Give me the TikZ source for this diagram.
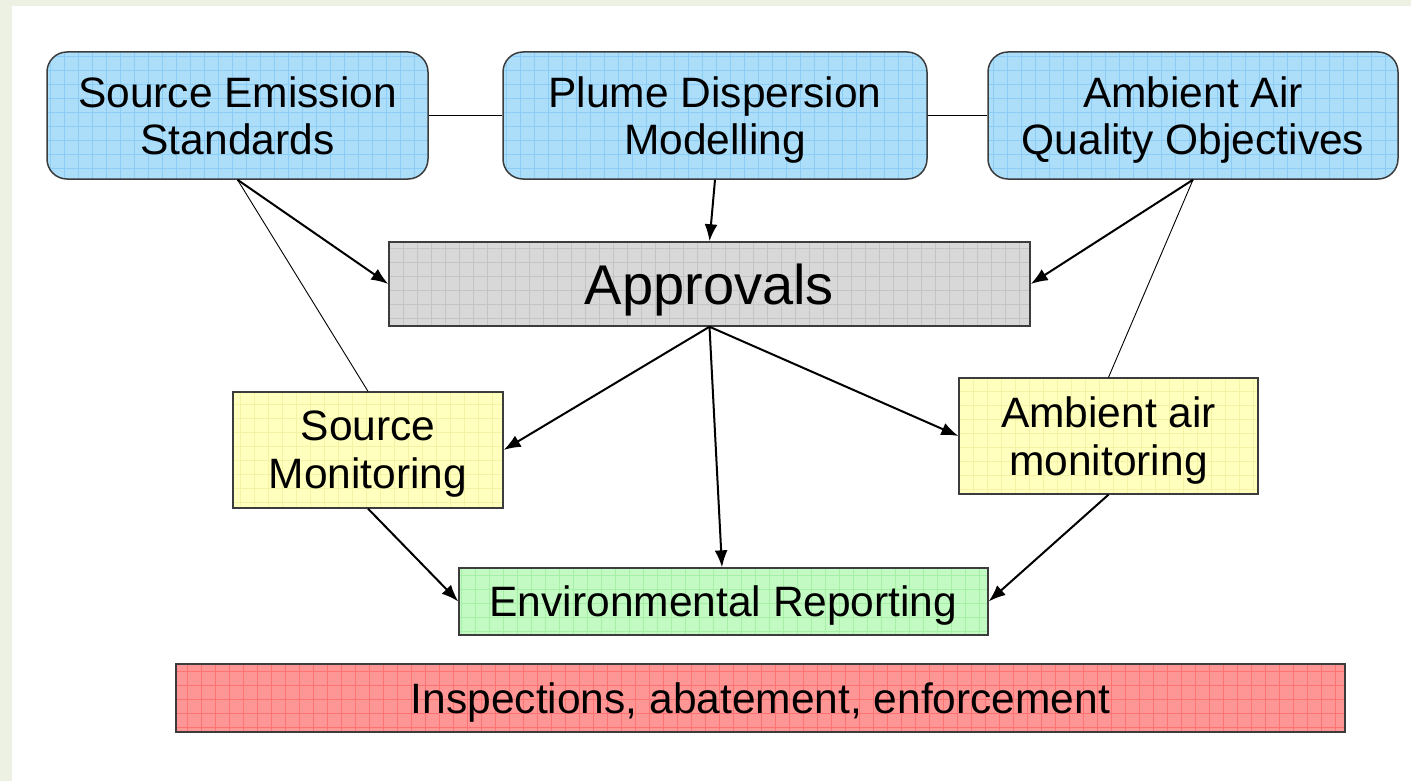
\documentclass[tikz,border=0pt]{standalone}
\usepackage{fontspec}
\setmainfont{Liberation Sans}
\usetikzlibrary{arrows.meta}
\newcommand{\nodepth}[1]{\raisebox{0pt}[\height][0pt]{#1}}
\definecolor{bgframe}{RGB}{237,241,227}
\definecolor{bluefill}{RGB}{172,222,250}
\definecolor{bluegrid}{RGB}{140,205,247}
\definecolor{grayfill}{RGB}{216,216,216}
\definecolor{graygrid}{RGB}{196,196,196}
\definecolor{yellowfill}{RGB}{255,255,190}
\definecolor{yellowgrid}{RGB}{245,242,165}
\definecolor{greenfill}{RGB}{195,250,195}
\definecolor{greengrid}{RGB}{165,240,165}
\definecolor{redfill}{RGB}{255,150,150}
\definecolor{redgrid}{RGB}{255,115,115}
\definecolor{boxline}{RGB}{60,60,60}
\tikzset{
  gridded/.style={path picture={\draw[#1, line width=0.7pt] ([shift={(-20pt,-20pt)}]path picture bounding box.south west) grid[step=14pt] ([shift={(20pt,20pt)}]path picture bounding box.north east);}},
  topbox/.style={draw=boxline, line width=1.5pt, rounded corners=20pt, fill=bluefill, gridded=bluegrid, align=center, font=\fontsize{42.5}{47.5}\selectfont, inner sep=0pt, minimum height=127pt},
  appbox/.style={draw=boxline, line width=1.5pt, fill=grayfill, gridded=graygrid, align=center, font=\fontsize{56}{62}\selectfont, inner sep=0pt, minimum height=84pt, minimum width=641pt},
  monbox/.style={draw=boxline, line width=1.3pt, fill=yellowfill, gridded=yellowgrid, align=center, font=\fontsize{42.5}{48}\selectfont, inner sep=0pt, minimum height=116pt},
  repbox/.style={draw=boxline, line width=1.3pt, fill=greenfill, gridded=greengrid, align=center, font=\fontsize{42.5}{47}\selectfont, inner sep=0pt, minimum height=67pt, minimum width=529pt},
  insbox/.style={draw=boxline, line width=1.5pt, fill=redfill, gridded=redgrid, align=center, font=\fontsize{42.5}{47}\selectfont, inner sep=0pt, minimum height=68pt, minimum width=1169pt},
  arr/.style={-{Latex[length=17pt,width=13pt]}, line width=2pt, black},
  thin/.style={line width=0.9pt, black}
}
\begin{document}
\begin{tikzpicture}[x=1pt,y=-1pt]
\useasboundingbox (0,0) rectangle (1411,781);
\fill[bgframe] (0,0) rectangle (1411,781);
\fill[white] (12,6) rectangle (1411,781);

\node[topbox, minimum width=381pt] (ses) at (237.5,115.5) {Source Emission\\\nodepth{Standards}};
\node[topbox, minimum width=424pt] (pdm) at (715,115.5) {Plume Dispersion\\\nodepth{Modelling}};
\node[topbox, minimum width=410pt] (aaq) at (1193,115.5) {Ambient Air\\\nodepth{Quality Objectives}};

\node[appbox] (app) at (709.5,284) {\nodepth{Approvals}};

\node[monbox, minimum width=270pt] (sm) at (368,450) {Source\\\nodepth{Monitoring}};
\node[monbox, minimum width=299pt] (am) at (1108.5,436) {Ambient air\\\nodepth{monitoring}};

\node[repbox] (er) at (723.5,601.5) {\nodepth{Environmental Reporting}};
\node[insbox] (ins) at (760.5,698) {\nodepth{Inspections, abatement, enforcement}};

\draw[thin] (ses.east) -- (pdm.west);
\draw[thin] (pdm.east) -- (aaq.west);

\draw[arr] (ses.south) -- (app.west);
\draw[thin] (ses.south) -- (sm.north);
\draw[arr] (pdm.south) -- (app.north);
\draw[arr] (aaq.south) -- (app.east);
\draw[thin] (aaq.south) -- (am.north);

\draw[arr] (app.south) -- (sm.east);
\draw[arr] (app.south) -- ([xshift=-1.5pt]er.north);
\draw[arr] (app.south) -- (am.west);

\draw[arr] (sm.south) -- (er.west);
\draw[arr] (am.south) -- (er.east);
\end{tikzpicture}
\end{document}
